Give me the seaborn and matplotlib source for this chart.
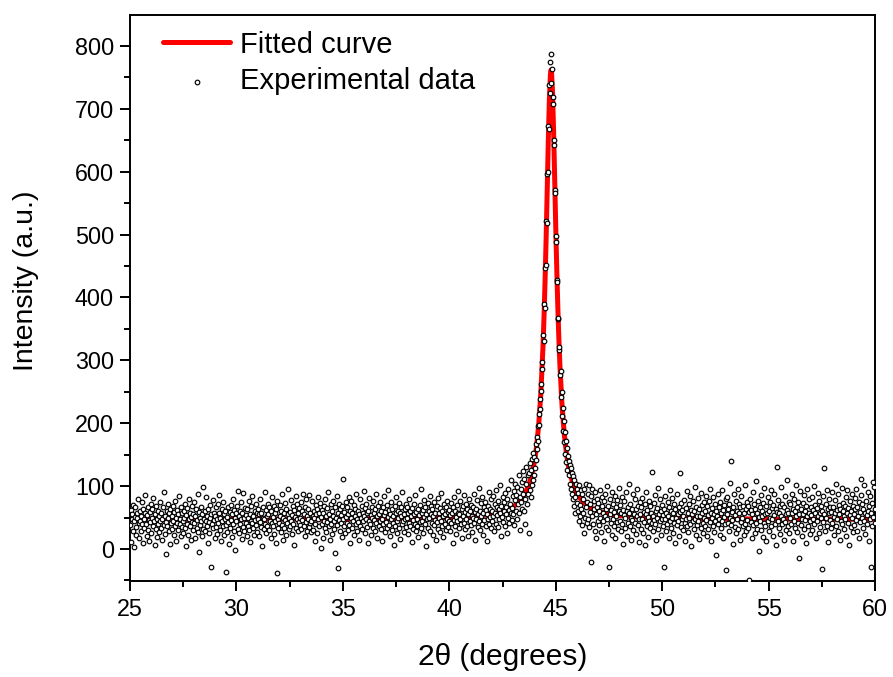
import numpy as np
import pandas as pd
import seaborn as sns
import matplotlib.pyplot as plt
from matplotlib.ticker import MultipleLocator

# fitted curve (knots along the red line)
fit_x = [25, 30, 35, 38, 40, 41, 42, 42.5, 43, 43.3, 43.6, 43.8, 44.0, 44.1, 44.2,
         44.3, 44.4, 44.45, 44.5, 44.55, 44.6, 44.65, 44.7, 44.75, 44.78, 44.8,
         44.85, 44.9, 44.95, 45.0, 45.05, 45.1, 45.15, 45.2, 45.3, 45.4, 45.5,
         45.6, 45.8, 46.0, 46.3, 46.6, 47, 47.5, 48, 49, 50, 52, 55, 60]
fit_y = [47.2, 47.3, 47.7, 48.4, 49.8, 51.5, 55.2, 59.2, 66.8, 75.3, 90.4, 108.3,
         139.1, 163.4, 197.9, 247.8, 321.6, 370.5, 429.2, 497.3, 572.7, 649, 714.5,
         754.9, 762, 758.8, 725.1, 663.4, 588.3, 511.9, 442, 381.4, 330.6, 288.6,
         225.6, 182.6, 152.8, 131.4, 103.9, 87.8, 73.8, 65.9, 59.8, 55.6, 53.2,
         50.6, 49.4, 48.2, 47.6, 47.3]

# experimental scan, step 0.025 deg
step = 0.025

# 25.000 - 43.475
counts_low = [
    38, 62, 11, 47, 55, 29, 70, 44, 3, 51, 66, 35, 22, 58, 49, 80, 41, 17, 60, 45,
    52, 28, 74, 39, 9, 63, 48, 33, 57, 86, 40, 21, 54, 67, 30, 46, 12, 59, 43, 71,
    25, 50, 64, 37, 81, 44, 6, 56, 32, 69, 48, 19, 61, 40, 53, 27, 75, 45, 34, 58,
    47, 15, 66, 38, 90, 52, 24, 43, -8, 60, 36, 72, 49, 28, 57, 8, 64, 41, 53, 31,
    68, 45, 22, 59, 37, 77, 50, 13, 62, 42, 30, 55, 84, 39, 48, 20, 66, 35, 57, 44,
    26, 61, 49, 71, 33, 5, 54, 40, 65, 23, 47, 79, 36, 58, 14, 51, 43, 69, 30, 56,
    41, 75, 18, 53, 63, 34, 46, 88, 27, 59, -5, 50, 38, 67, 44, 21, 56, 99, 32, 48,
    60, 29, 45, 82, 37, 52, 10, 64, 43, 26, 70, 49, -29, 55, 39, 78, 33, 58, 46, 17,
    53, 67, 35, 48, 24, 72, 41, 57, 86, 30, 50, 12, 63, 44, 36, 75, 55, 22, 47, 61,
    38, -37, 51, 27, 66, 43, 8, 59, 34, 70, 46, 19, 55, 80, 40, 62, 29, 49, -2, 57,
    44, 68, 31, 92, 52, 25, 61, 39, 74, 47, 16, 58, 35, 89, 50, 28, 65, 42, 54, 20,
    63, 37, 49, 77, 30, 56, 11, 45, 69, 41, 85, 33, 52, 23, 60, 46, 72, 38, 57, 27,
    48, 64, 21, 55, 43, 79, 35, 58, 4, 50, 67, 32, 47, 91, 40, 62, 26, 53, 36, 71,
    55, 30, 66, 45, 18, 60, 42, 83, 37, 51, 24, 69, 44, 57, 9, 64, -38, 76, 48, 33,
    42, 70, 52, 27, 61, 38, 87, 49, 15, 58, 34, 73, 46, 22, 63, 41, 56, 95, 31, 50,
    59, 36, 45, 78, 24, 54, 68, 40, 62, 7, 51, 84, 33, 47, 71, 29, 57, 43, 65, 38,
    50, 74, 31, 60, 46, 88, 37, 55, 20, 66, 43, 79, 52, 28, 63, 48, 86, 35, 58, 41,
    27, 44, 76, 53, 30, 61, 49, 12, 39, 70, 56, 25, 64, 47, 82, 58, 36, 73, 51, 2,
    62, 40, 57, 18, 69, 45, 33, 80, 52, 27, 65, 43, 91, 36, 55, 14, 48, 71, 39, 60,
    24, 53, 76, 44, 31, 67, -6, 50, 85, 38, 58, -30, 46, 72, 29, 63, 41, 54, 19, 68,
    47, 112, 36, 59, 25, 74, 51, 42, 66, 30, 55, 83, 38, 61, 10, 49, 77, 34, 57, 45,
    70, 22, 52, 64, 39, 88, 47, 28, 60, 43, 15, 56, 79, 37, 50, 68, 31, 58, 44, 92,
    53, 26, 65, 48, 72, 35, 57, 9, 61, 44, 81, 39, 54, 23, 67, 50, 33, 76, 46, 58,
    29, 63, 42, 87, 52, 18, 69, 37, 55, 45, 74, 31, 60, 48, 13, 66, 40, 85, 54, 27,
    59, 43, 70, 34, 51, 94, 38, 62, 21, 56, 47, 75, 30, 64, 41, 53, 6, 68, 36, 57,
    82, 45, 25, 61, 49, 73, 33, 58, 16, 52, 66, 39, 90, 44, 55, 27, 63, 47, 71, 35,
    50, 67, 24, 58, 42, 79, 36, 61, 53, 11, 65, 46, 31, 72, 55, 40, 86, 28, 59, 48,
    37, 64, 19, 54, 70, 43, 95, 33, 57, 45, 62, 26, 51, 78, 39, 66, 4, 56, 47, 73,
    34, 60, 49, 84, 29, 55, 68, 41, 63, 22, 52, 75, 38, 57, 46, 14, 69, 43, 81, 32,
    58, 50, 27, 65, 44, 89, 36, 61, 53, 19, 71, 40, 56, 30, 66, 48, 77, 35, 59, 45,
    62, 28, 54, 73, 41, 57, 9, 67, 46, 83, 37, 60, 51, 24, 70, 44, 58, 92, 33, 55,
    48, 76, 39, 63, 17, 53, 68, 42, 86, 31, 59, 47, 72, 36, 64, 21, 56, 79, 45, 61,
    38, 70, 53, 27, 66, 49, 88, 42, 59, 15, 64, 47, 78, 35, 56, 97, 44, 61, 30, 73,
    52, 40, 83, 58, 23, 67, 46, 75, 36, 62, 55, 12, 69, 48, 91, 39, 63, 51, 80, 33,
    60, 45, 85, 52, 29, 71, 57, 94, 40, 66, 54, 77, 35, 63, 48, 102, 58, 20, 69, 51,
    82, 43, 74, 61, 37, 89, 55, 67, 26, 79, 50, 96, 62, 41, 72, 58, 109, 46, 65, 84,
    55, 92, 38, 78, 104, 61, 86, 47, 99, 72, 118, 58, 83, 30, 95, 74, 107, 64, 124, 88,
]

# 43.500 - 46.475
counts_peak = [
    61, 112, 79, 40, 103, 131, 72, 117, 88, 26, 121, 94, 137, 83, 126, 101, 143, 109, 152, 118,
    146, 129, 167, 141, 178, 159, 196, 172, 214, 197, 238, 222, 263, 251, 298, 287, 340, 331, 389, 384,
    447, 451, 521, 519, 596, 600, 672, 668, 738, 725, 775, 788, 741, 763, 708, 719, 651, 643, 571, 566,
    498, 489, 427, 424, 366, 368, 317, 322, 276, 283, 241, 250, 212, 224, 188, 203, 170, 186, 151, 172,
    139, 161, 126, 148, 117, 140, 104, 133, 95, 128, 87, 121, 79, 116, 68, 110, 82, 57, 104, 73,
    96, 61, 89, 44, 101, 70, 52, 93, 64, 38, 87, 58, 79, 26, 95, 49, 66, 104, 41, 75,
]

# 46.500 - 60.000
counts_high = [
    88, 47, 102, 35, 71, 59, -21, 84, 52, 96, 40, 77, 63, 29, 91, 55, 18, 80, 66, 45,
    73, 38, 61, 94, 50, 27, 69, 82, 44, 58, 12, 76, 53, 87, 35, 64, 47, 100, 30, 68,
    -29, 56, 79, 41, 62, 23, 90, 48, 71, 36, 59, 85, 17, 66, 52, 43, 78, 31, 61, 97,
    45, 70, 28, 57, 83, 39, 62, 8, 54, 76, 49, 33, 91, 60, 21, 67, 42, 58, 104, 36,
    72, 50, 15, 64, 46, 87, 30, 56, 79, 41, 63, 24, 53, 95, 38, 69, 47, 11, 74, 55,
    32, 66, 48, 81, 25, 59, 43, 72, 6, 55, 90, 37, 62, 51, 19, 77, 45, 34, 68, 57,
    41, 122, 53, 28, 73, 46, 86, 39, 60, 14, 65, 50, 97, 31, 56, 44, 79, 22, 61, 48,
    70, 36, 54, -29, 63, 47, 84, 29, 58, 40, 75, 52, 17, 66, 44, 93, 33, 60, 49, 81,
    26, 57, 42, 71, 9, 64, 50, 38, 88, 55, 45, 67, 21, 59, 121, 35, 73, 48, 62, 30,
    53, 78, 41, 13, 65, 47, 92, 36, 58, 27, 71, 50, 84, 39, 62, 5, 56, 44, 76, 32,
    60, 99, 48, 23, 67, 53, 38, 81, 45, 16, 63, 52, 89, 34, 57, 70, 42, 25, 74, 49,
    37, 61, 85, 46, 20, 68, 54, 31, 77, 43, 96, 58, 12, 65, 49, 36, 82, 55, 27, 71,
    44, 60, -10, 52, 87, 39, 66, 48, 23, 74, 57, 33, 93, 45, 62, 18, 70, 51, 40, 79,
    -33, 56, 83, 42, 64, 29, 71, 50, 105, 38, 140, 59, 46, 8, 67, 88, 35, 54, 76, 25,
    61, 47, 95, 31, 58, 72, 14, 66, 43, 84, 50, 37, 69, 22, 57, 101, 40, 63, 28, 75,
    46, 68, 34, 59, -49, 80, 43, 62, 17, 55, 90, 38, 71, 49, 26, 64, 108, 41, 57, 32,
    76, 51, -3, 66, 45, 86, 30, 60, 53, 19, 73, 42, 97, 56, 37, 69, 12, 58, 82, 44,
    61, 28, 75, 50, 93, 36, 65, 47, 21, 70, 54, 87, 40, 63, 6, 59, 131, 45, 78, 33,
    57, 68, 24, 52, 99, 39, 72, 48, 15, 66, 43, 84, 55, 30, 62, 109, 37, 58, 74, 26,
    49, 71, 40, 88, 57, 13, 64, 45, 80, 34, 60, 52, 102, 27, 67, 42, 75, -15, 56, 92,
    38, 63, 48, 20, 73, 55, 86, 31, 61, 46, 9, 69, 53, 96, 36, 58, 79, 44, 24, 66,
    54, 83, 30, 62, 47, 100, 39, 70, 57, 18, 65, 44, 89, 52, 26, 76, 58, 35, 68, 49,
    -32, 60, 43, 85, 129, 55, 28, 72, 50, 94, 37, 63, 11, 57, 80, 46, 67, 33, 59, 90,
    42, 66, 51, 23, 78, 58, 104, 36, 62, 47, 87, 29, 70, 55, 14, 64, 45, 97, 39, 60,
    73, 52, 31, 68, 48, 83, 20, 57, 93, 41, 65, 7, 54, 76, 35, 61, 49, 88, 27, 69,
    56, 38, 81, 63, 46, 95, 29, 67, 52, 74, 17, 59, 43, 86, 112, 50, 71, 33, 64, 101,
    45, 58, 24, 77, 54, 39, 90, 61, 12, 69, 48, 84, -29, 57, 36, 73, 107, 51, 98, 42,
    63,
]

counts = counts_low + counts_peak + counts_high
two_theta = np.round(25 + step * np.arange(len(counts)), 3)
exp_df = pd.DataFrame({"two_theta": two_theta, "intensity": counts})
fit_df = pd.DataFrame({"two_theta": fit_x, "intensity": fit_y})

sns.set_style("ticks")
plt.rcParams["font.family"] = ["Liberation Sans", "DejaVu Sans"]
plt.rcParams.update({"text.color": "black", "axes.labelcolor": "black",
                     "xtick.color": "black", "ytick.color": "black",
                     "axes.edgecolor": "black"})

fig = plt.figure(figsize=(8.93, 6.77), dpi=100)
ax = fig.add_axes([0.1456, 0.1411, 0.8343, 0.8368])

sns.lineplot(data=fit_df, x="two_theta", y="intensity", ax=ax, color="#ff0000",
             linewidth=3.6, sort=False, label="Fitted curve", zorder=2)
sns.scatterplot(data=exp_df, x="two_theta", y="intensity", ax=ax, marker="o", s=11,
                color="white", edgecolor="black", linewidth=0.85,
                label="Experimental data", zorder=3)

ax.set_xlim(25, 60)
ax.set_ylim(-51.7, 849.3)
ax.xaxis.set_major_locator(MultipleLocator(5))
ax.xaxis.set_minor_locator(MultipleLocator(2.5))
ax.set_yticks(range(0, 801, 100))
ax.yaxis.set_minor_locator(MultipleLocator(50))

for s in ax.spines.values():
    s.set_linewidth(1.4)
ax.tick_params(which="major", direction="out", length=7.5, width=1.4, labelsize=16.8)
ax.tick_params(axis="x", which="major", pad=4.5)
ax.tick_params(axis="y", which="major", pad=4)
ax.tick_params(which="minor", direction="out", length=4, width=1.4)
ax.tick_params(top=False, right=False, which="both")

ax.set_xlabel("2θ (degrees)", fontsize=21.5)
ax.set_ylabel("Intensity (a.u.)", fontsize=20.5)
ax.xaxis.set_label_coords(0.5, -0.108)
ax.yaxis.set_label_coords(-0.122, 0.53)

ax.legend(loc="upper left", bbox_to_anchor=(0.0286, 0.993), frameon=False,
          fontsize=21, handlelength=2.3, handletextpad=0.34,
          labelspacing=0.3, borderaxespad=0.0)

fig.savefig("out.png", dpi=100)
